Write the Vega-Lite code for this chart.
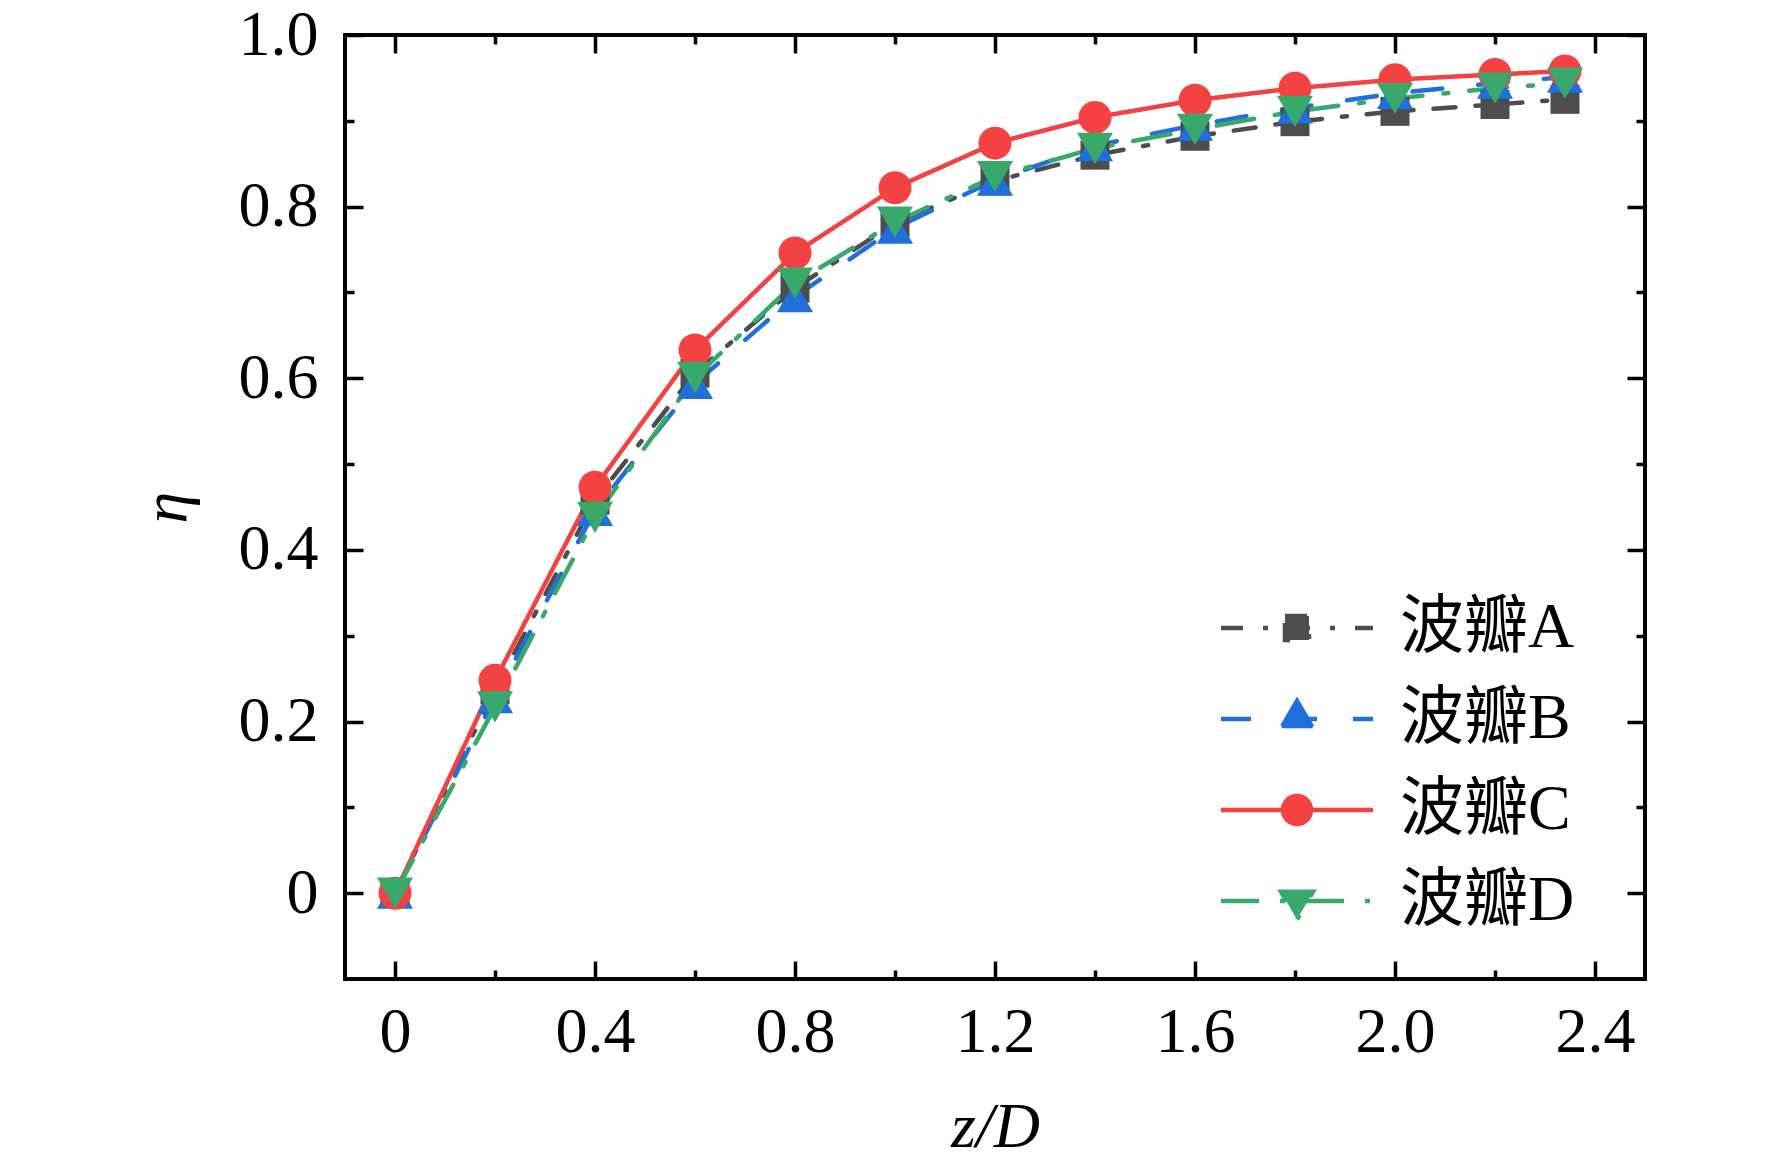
{
  "$schema": "https://vega.github.io/schema/vega-lite/v6.json",
  "width": 1300,
  "height": 944,
  "autosize": "none",
  "padding": {"left": 345, "top": 35, "right": 127, "bottom": 187},
  "background": "white",
  "data": {
    "values": [
      {"z": 0, "eta": 0, "s": "波瓣A"},
      {"z": 0.2, "eta": 0.237, "s": "波瓣A"},
      {"z": 0.4, "eta": 0.458, "s": "波瓣A"},
      {"z": 0.6, "eta": 0.606, "s": "波瓣A"},
      {"z": 0.8, "eta": 0.705, "s": "波瓣A"},
      {"z": 1.0, "eta": 0.781, "s": "波瓣A"},
      {"z": 1.2, "eta": 0.830, "s": "波瓣A"},
      {"z": 1.4, "eta": 0.860, "s": "波瓣A"},
      {"z": 1.6, "eta": 0.882, "s": "波瓣A"},
      {"z": 1.8, "eta": 0.899, "s": "波瓣A"},
      {"z": 2.0, "eta": 0.911, "s": "波瓣A"},
      {"z": 2.2, "eta": 0.919, "s": "波瓣A"},
      {"z": 2.34, "eta": 0.925, "s": "波瓣A"},
      {"z": 0, "eta": 0, "s": "波瓣B"},
      {"z": 0.2, "eta": 0.228, "s": "波瓣B"},
      {"z": 0.4, "eta": 0.446, "s": "波瓣B"},
      {"z": 0.6, "eta": 0.594, "s": "波瓣B"},
      {"z": 0.8, "eta": 0.695, "s": "波瓣B"},
      {"z": 1.0, "eta": 0.775, "s": "波瓣B"},
      {"z": 1.2, "eta": 0.831, "s": "波瓣B"},
      {"z": 1.4, "eta": 0.871, "s": "波瓣B"},
      {"z": 1.6, "eta": 0.895, "s": "波瓣B"},
      {"z": 1.8, "eta": 0.915, "s": "波瓣B"},
      {"z": 2.0, "eta": 0.932, "s": "波瓣B"},
      {"z": 2.2, "eta": 0.944, "s": "波瓣B"},
      {"z": 2.34, "eta": 0.951, "s": "波瓣B"},
      {"z": 0, "eta": 0, "s": "波瓣C"},
      {"z": 0.2, "eta": 0.248, "s": "波瓣C"},
      {"z": 0.4, "eta": 0.473, "s": "波瓣C"},
      {"z": 0.6, "eta": 0.633, "s": "波瓣C"},
      {"z": 0.8, "eta": 0.746, "s": "波瓣C"},
      {"z": 1.0, "eta": 0.822, "s": "波瓣C"},
      {"z": 1.2, "eta": 0.874, "s": "波瓣C"},
      {"z": 1.4, "eta": 0.904, "s": "波瓣C"},
      {"z": 1.6, "eta": 0.924, "s": "波瓣C"},
      {"z": 1.8, "eta": 0.938, "s": "波瓣C"},
      {"z": 2.0, "eta": 0.948, "s": "波瓣C"},
      {"z": 2.2, "eta": 0.954, "s": "波瓣C"},
      {"z": 2.34, "eta": 0.958, "s": "波瓣C"},
      {"z": 0, "eta": 0, "s": "波瓣D"},
      {"z": 0.2, "eta": 0.217, "s": "波瓣D"},
      {"z": 0.4, "eta": 0.438, "s": "波瓣D"},
      {"z": 0.6, "eta": 0.601, "s": "波瓣D"},
      {"z": 0.8, "eta": 0.711, "s": "波瓣D"},
      {"z": 1.0, "eta": 0.782, "s": "波瓣D"},
      {"z": 1.2, "eta": 0.835, "s": "波瓣D"},
      {"z": 1.4, "eta": 0.868, "s": "波瓣D"},
      {"z": 1.6, "eta": 0.890, "s": "波瓣D"},
      {"z": 1.8, "eta": 0.911, "s": "波瓣D"},
      {"z": 2.0, "eta": 0.926, "s": "波瓣D"},
      {"z": 2.2, "eta": 0.938, "s": "波瓣D"},
      {"z": 2.34, "eta": 0.944, "s": "波瓣D"}
    ]
  },
  "layer": [
    {
      "mark": {"type": "line", "strokeWidth": 4.5, "strokeCap": "round", "strokeJoin": "round"},
      "encoding": {
        "x": {
          "field": "z", "type": "quantitative", "title": "z/D",
          "scale": {"domain": [-0.1, 2.5], "nice": false, "zero": false},
          "axis": {
            "orient": "bottom",
            "values": [0, 0.2, 0.4, 0.6, 0.8, 1.0, 1.2, 1.4, 1.6, 1.8, 2.0, 2.2, 2.4],
            "labelExpr": "round(datum.value * 10) % 4 == 0 ? (datum.value == 0 ? '0' : format(datum.value, '.1f')) : ''",
            "tickSize": {"condition": {"test": "round(datum.value * 10) % 4 == 0", "value": -18}, "value": -9},
            "labelPadding": 39,
            "titlePadding": 22
          }
        },
        "y": {
          "field": "eta", "type": "quantitative", "title": "η",
          "scale": {"domain": [-0.1, 1.0], "nice": false, "zero": false},
          "axis": {
            "orient": "left",
            "values": [0, 0.1, 0.2, 0.3, 0.4, 0.5, 0.6, 0.7, 0.8, 0.9, 1.0],
            "labelExpr": "round(datum.value * 10) % 2 == 0 ? (datum.value == 0 ? '0' : format(datum.value, '.1f')) : ''",
            "tickSize": {"condition": {"test": "round(datum.value * 10) % 2 == 0", "value": -18}, "value": -9},
            "labelPadding": 45,
            "titlePadding": 40
          }
        },
        "color": {
          "field": "s", "type": "nominal",
          "scale": {"domain": ["波瓣A", "波瓣B", "波瓣C", "波瓣D"], "range": ["#4d4d4d", "#1f6fdc", "#f44242", "#38a96b"]},
          "legend": null
        },
        "strokeDash": {
          "field": "s", "type": "nominal",
          "scale": {"domain": ["波瓣A", "波瓣B", "波瓣C", "波瓣D"], "range": [[22, 20, 5, 20], [30, 36], [1, 0], [38, 21, 5, 21]]},
          "legend": null
        }
      }
    },
    {
      "mark": {"type": "point", "filled": true, "opacity": 1, "strokeWidth": 0},
      "encoding": {
        "x": {"field": "z", "type": "quantitative", "axis": null},
        "y": {"field": "eta", "type": "quantitative", "axis": null},
        "color": {"field": "s", "type": "nominal", "legend": null},
        "shape": {
          "field": "s", "type": "nominal",
          "scale": {"domain": ["波瓣A", "波瓣B", "波瓣C", "波瓣D"], "range": ["square", "triangle-up", "circle", "triangle-down"]},
          "legend": null
        },
        "size": {
          "field": "s", "type": "nominal",
          "scale": {"type": "ordinal", "domain": ["波瓣A", "波瓣B", "波瓣C", "波瓣D"], "range": [841, 1300, 1089, 1300]},
          "legend": null
        }
      }
    },
    {
      "transform": [{"filter": "false"}],
      "mark": {"type": "point", "filled": true, "opacity": 1},
      "encoding": {
        "x": {
          "field": "z", "type": "quantitative",
          "axis": {
            "orient": "top", "title": null, "labels": false,
            "values": [0, 0.2, 0.4, 0.6, 0.8, 1.0, 1.2, 1.4, 1.6, 1.8, 2.0, 2.2, 2.4],
            "tickSize": {"condition": {"test": "round(datum.value * 10) % 4 == 0", "value": -18}, "value": -9}
          }
        },
        "y": {
          "field": "eta", "type": "quantitative",
          "axis": {
            "orient": "right", "title": null, "labels": false,
            "values": [0, 0.1, 0.2, 0.3, 0.4, 0.5, 0.6, 0.7, 0.8, 0.9, 1.0],
            "tickSize": {"condition": {"test": "round(datum.value * 10) % 2 == 0", "value": -18}, "value": -9}
          }
        },
        "color": {
          "field": "s", "type": "nominal",
          "legend": {
            "title": null,
            "orient": "none",
            "legendX": 920,
            "legendY": 561,
            "padding": 0,
            "symbolSize": 400,
            "symbolStrokeWidth": 4.5,
            "labelOffset": 71,
            "labelLimit": 0,
            "rowPadding": 27,
            "labelFont": "Liberation Serif, Noto Sans CJK SC",
            "labelFontSize": 64,
            "labelColor": "black",
            "encode": {"symbols": {"update": {"strokeCap": {"value": "round"}}}}
          }
        },
        "stroke": {
          "field": "s", "type": "nominal",
          "scale": {"domain": ["波瓣A", "波瓣B", "波瓣C", "波瓣D"], "range": ["#4d4d4d", "#1f6fdc", "#f44242", "#38a96b"]}
        },
        "strokeDash": {"field": "s", "type": "nominal"},
        "shape": {
          "field": "s", "type": "nominal",
          "scale": {
            "domain": ["波瓣A", "波瓣B", "波瓣C", "波瓣D"],
            "range": [
              "M-7.6,0H7.6M-1.2,-1.2H1.2V1.2H-1.2Z",
              "M-7.6,0H7.6M0,-1.8L1.6,0.93H-1.6Z",
              "M-7.6,0H7.6M-1.4,0A1.4,1.4 0 1,0 1.4,0A1.4,1.4 0 1,0 -1.4,0Z",
              "M-7.6,0H7.6M-1.6,-0.93H1.6L0,1.87Z"
            ]
          }
        }
      }
    }
  ],
  "resolve": {
    "scale": {"shape": "independent", "size": "independent", "stroke": "independent"},
    "axis": {"x": "independent", "y": "independent"},
    "legend": {"color": "independent", "strokeDash": "independent", "shape": "independent", "size": "independent", "stroke": "independent"}
  },
  "config": {
    "view": {"stroke": "black", "strokeWidth": 4},
    "axis": {
      "grid": false,
      "domain": false,
      "tickColor": "black",
      "tickWidth": 3.5,
      "labelFont": "Liberation Serif",
      "labelFontSize": 64,
      "labelColor": "black",
      "labelOverlap": false,
      "labelFlush": false,
      "titleFont": "Liberation Serif",
      "titleFontSize": 64,
      "titleFontStyle": "italic",
      "titleFontWeight": "normal",
      "titleColor": "black"
    }
  }
}
